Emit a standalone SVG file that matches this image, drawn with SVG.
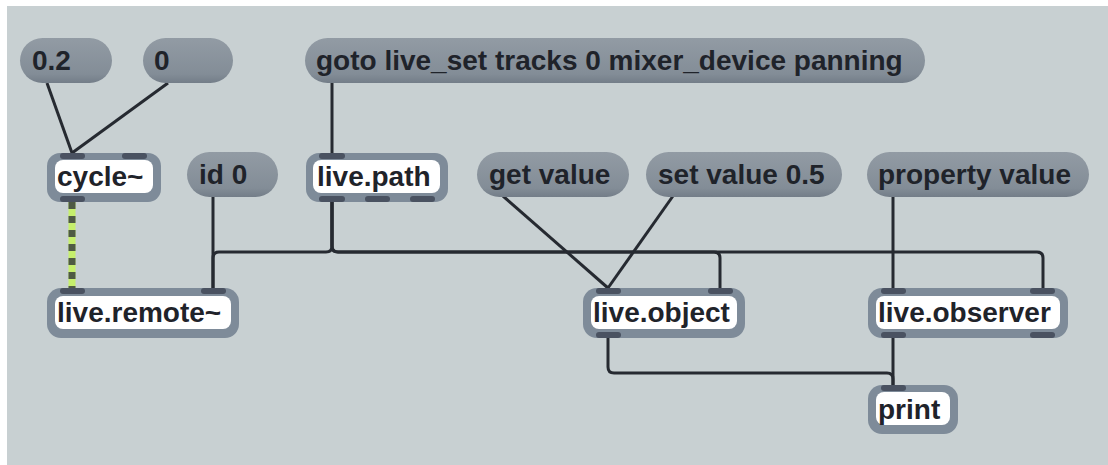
<svg xmlns="http://www.w3.org/2000/svg" width="1108" height="465" viewBox="0 0 1108 465">
<style>
.bg{fill:#c8d0d2}
.msg{fill:url(#msgGrad)}
.obj{fill:#7e8b99}
.in{fill:#ffffff}
.port{fill:#4a5261}
.t{font-family:"Liberation Sans",Arial,sans-serif;font-weight:bold;font-size:28px;fill:#1f232a}
.cord{fill:none;stroke:#262a31;stroke-width:3;stroke-linejoin:round}
.sigA{fill:none;stroke:#c6ef6c;stroke-width:7}
.sigB{fill:none;stroke:#4f5a44;stroke-width:7;stroke-dasharray:7 7}
</style>
<defs>
<linearGradient id="msgGrad" x1="0" y1="0" x2="0" y2="1">
<stop offset="0" stop-color="#929ba4"/>
<stop offset="0.8" stop-color="#838d97"/>
<stop offset="1" stop-color="#737d88"/>
</linearGradient>
</defs>
<rect class="bg" x="7" y="6" width="1101" height="459"/>

<g id="connectors">
<path class="cord" d="M47,83 L72,153"/>
<path class="cord" d="M168,83 L72,153"/>
<path class="cord" d="M332,83 V153"/>
<path class="sigA" d="M72,202 V288"/>
<path class="sigB" d="M72,202 V288"/>
<path class="cord" d="M213,197 V288"/>
<path class="cord" d="M332,202 V246 Q332,252 326,252 H219 Q213,252 213,258 V288"/>
<path class="cord" d="M332,202 V246 Q332,252 338,252 H714 Q720,252 720,258 V288"/>
<path class="cord" d="M332,202 V246 Q332,252 338,252 H1037 Q1043,252 1043,258 V288"/>
<path class="cord" d="M503,196 L608,288"/>
<path class="cord" d="M673,196 L608,288"/>
<path class="cord" d="M893,197 V288"/>
<path class="cord" d="M608,338 V367 Q608,373 614,373 H887 Q893,373 893,379 V385"/>
<path class="cord" d="M893,338 V385"/>
</g>

<g id="msg-0.2">
<rect class="msg" x="20" y="38" width="92" height="45" rx="22.5"/>
<text class="t" x="32" y="70">0.2</text>
</g>
<g id="msg-0">
<rect class="msg" x="143" y="38" width="90" height="45" rx="22.5"/>
<text class="t" x="154" y="70">0</text>
</g>
<g id="msg-goto">
<rect class="msg" x="305" y="38" width="620" height="45" rx="22.5"/>
<text class="t" x="316" y="70">goto live_set tracks 0 mixer_device panning</text>
</g>

<g id="obj-cycle">
<rect class="obj" x="47" y="153" width="114" height="49" rx="13"/>
<rect class="in" x="55" y="160" width="98" height="33" rx="8"/>
<rect class="port" x="60" y="153" width="25" height="6" rx="3"/>
<rect class="port" x="122" y="153" width="25" height="6" rx="3"/>
<rect class="port" x="60" y="196" width="25" height="6" rx="3"/>
<text class="t" x="57" y="186">cycle~</text>
</g>

<g id="msg-id0">
<rect class="msg" x="187" y="152" width="91" height="45" rx="22.5"/>
<text class="t" x="199" y="184">id 0</text>
</g>

<g id="obj-livepath">
<rect class="obj" x="306" y="153" width="142" height="49" rx="13"/>
<rect class="in" x="313" y="160" width="127" height="33" rx="8"/>
<rect class="port" x="319" y="153" width="26" height="6" rx="3"/>
<rect class="port" x="319" y="196" width="26" height="6" rx="3"/>
<rect class="port" x="365" y="196" width="25" height="6" rx="3"/>
<rect class="port" x="410" y="196" width="25" height="6" rx="3"/>
<text class="t" x="317" y="186">live.path</text>
</g>

<g id="msg-getvalue">
<rect class="msg" x="477" y="152" width="152" height="45" rx="22.5"/>
<text class="t" x="489" y="184">get value</text>
</g>
<g id="msg-setvalue">
<rect class="msg" x="646" y="152" width="196" height="45" rx="22.5"/>
<text class="t" x="658" y="184">set value 0.5</text>
</g>
<g id="msg-property">
<rect class="msg" x="867" y="152" width="222" height="45" rx="22.5"/>
<text class="t" x="878" y="184">property value</text>
</g>

<g id="obj-liveremote">
<rect class="obj" x="47" y="288" width="192" height="50" rx="14"/>
<rect class="in" x="55" y="296" width="176" height="33" rx="8"/>
<rect class="port" x="60" y="288" width="25" height="6" rx="3"/>
<rect class="port" x="201" y="288" width="25" height="6" rx="3"/>
<text class="t" x="57" y="322">live.remote~</text>
</g>

<g id="obj-liveobject">
<rect class="obj" x="583" y="288" width="162" height="50" rx="14"/>
<rect class="in" x="591" y="296" width="146" height="33" rx="8"/>
<rect class="port" x="596" y="288" width="25" height="6" rx="3"/>
<rect class="port" x="708" y="288" width="25" height="6" rx="3"/>
<rect class="port" x="596" y="332" width="25" height="6" rx="3"/>
<text class="t" x="593" y="322">live.object</text>
</g>

<g id="obj-liveobserver">
<rect class="obj" x="868" y="288" width="200" height="50" rx="14"/>
<rect class="in" x="876" y="296" width="184" height="33" rx="8"/>
<rect class="port" x="881" y="288" width="25" height="6" rx="3"/>
<rect class="port" x="1030" y="288" width="25" height="6" rx="3"/>
<rect class="port" x="881" y="332" width="25" height="6" rx="3"/>
<rect class="port" x="1030" y="332" width="25" height="6" rx="3"/>
<text class="t" x="878" y="322">live.observer</text>
</g>

<g id="obj-print">
<rect class="obj" x="868" y="385" width="90" height="49" rx="14"/>
<rect class="in" x="876" y="392" width="74" height="33" rx="8"/>
<rect class="port" x="881" y="385" width="25" height="6" rx="3"/>
<text class="t" x="878" y="419">print</text>
</g>
</svg>
